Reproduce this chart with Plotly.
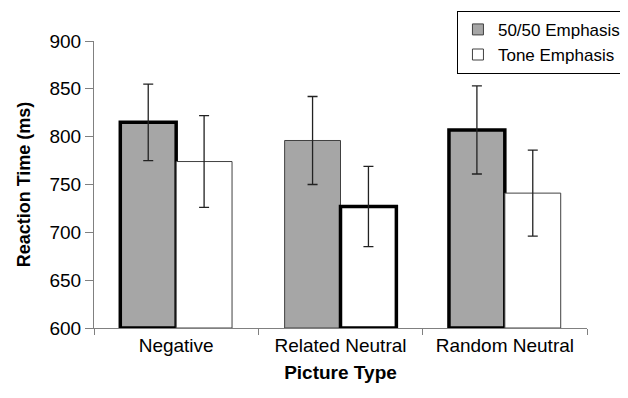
import plotly.graph_objects as go

categories = ["Negative", "Related Neutral", "Random Neutral"]
emph_5050 = [815, 796, 807]
emph_5050_err = [40, 46, 46]
emph_tone = [774, 727, 741]
emph_tone_err = [48, 42, 45]
y_ticks = [600, 650, 700, 750, 800, 850, 900]
Y_MIN = 600

FONT = "Arial, Liberation Sans, sans-serif"

fig = go.Figure()
fig.add_trace(go.Bar(
    name="50/50 Emphasis", x=categories, y=[v - Y_MIN for v in emph_5050], base=Y_MIN,
    marker=dict(color="#a6a6a6", line=dict(color=["#000000", "#404040", "#000000"], width=[3.5, 1, 3.5])),
    error_y=dict(type="data", array=emph_5050_err, color="#222222", thickness=1.3, width=5),
    showlegend=False,
))
fig.add_trace(go.Bar(
    name="Tone Emphasis", x=categories, y=[v - Y_MIN for v in emph_tone], base=Y_MIN,
    marker=dict(color="#ffffff", line=dict(color=["#404040", "#000000", "#404040"], width=[1, 3.5, 1])),
    error_y=dict(type="data", array=emph_tone_err, color="#222222", thickness=1.3, width=5),
    showlegend=False,
))
# legend entries (thin-bordered squares, as in the reference legend)
fig.add_trace(go.Scatter(
    name="50/50 Emphasis", x=[None], y=[None], mode="markers",
    marker=dict(symbol="square", size=11, color="#a6a6a6", line=dict(color="#404040", width=1)),
))
fig.add_trace(go.Scatter(
    name="Tone Emphasis", x=[None], y=[None], mode="markers",
    marker=dict(symbol="square", size=11, color="#ffffff", line=dict(color="#404040", width=1)),
))

# page body has an 8px default margin, so the figure is 8px smaller each way
fig.update_layout(
    width=620, height=390,
    margin=dict(l=86, r=41, t=33, b=70, autoexpand=False),
    paper_bgcolor="white", plot_bgcolor="white",
    barmode="group", bargap=0.32, bargroupgap=0,
    font=dict(family=FONT, size=19, color="black"),
    showlegend=True,
    legend=dict(x=1.079, y=1.105, xanchor="right", yanchor="top",
                bordercolor="black", borderwidth=1, bgcolor="white",
                font=dict(size=17), traceorder="normal", tracegroupgap=0,
                itemwidth=30),
    xaxis=dict(
        showline=True, linecolor="#808080", linewidth=1,
        ticks="outside", ticklen=6, tickcolor="#808080", tickson="boundaries",
        tickfont=dict(size=19),
        title=dict(text="<b>Picture Type</b>", font=dict(size=19), standoff=10),
        showgrid=False,
    ),
    yaxis=dict(
        range=[600, 900], tickvals=y_ticks,
        showline=True, linecolor="#808080", linewidth=1,
        ticks="outside", ticklen=8, tickcolor="#808080",
        tickfont=dict(size=19),
        title=dict(text="<b>Reaction Time (ms)</b>", font=dict(size=18), standoff=14),
        showgrid=False, zeroline=False,
    ),
)

fig.write_html("out.html")
